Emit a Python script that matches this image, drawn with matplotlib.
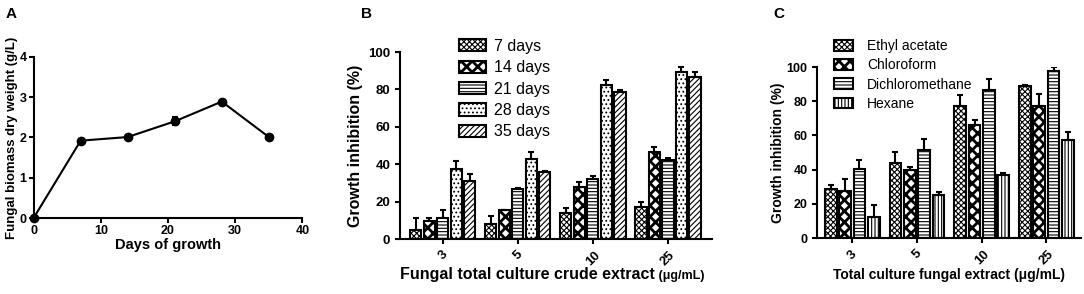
import numpy as np
import matplotlib
matplotlib.use("Agg")
import matplotlib.pyplot as plt

plt.rcParams['font.family'] = ['Liberation Sans', 'DejaVu Sans']
plt.rcParams['font.weight'] = 'bold'
plt.rcParams['axes.labelweight'] = 'bold'
plt.rcParams['axes.linewidth'] = 1.5
plt.rcParams['xtick.major.width'] = 1.5
plt.rcParams['ytick.major.width'] = 1.5
plt.rcParams['xtick.major.size'] = 3.5
plt.rcParams['ytick.major.size'] = 3.5
plt.rcParams['hatch.linewidth'] = 0.8

# Panel A: biomass over time
days = [0, 7, 14, 21, 28, 35]
biomass = [0.0, 1.92, 2.01, 2.40, 2.89, 2.01]
biomass_err = [0.0, 0.03, 0.03, 0.10, 0.03, 0.02]

# Panel B: growth inhibition by culture age
conc_labels = ["3", "5", "10", "25"]
age_labels = ["7 days", "14 days", "21 days", "28 days", "35 days"]
age_vals = [
    [4.6, 8.2, 13.9, 17.1],
    [9.4, 15.3, 27.8, 46.3],
    [11.2, 26.9, 32.0, 42.4],
    [37.4, 42.8, 82.2, 89.3],
    [31.2, 36.0, 78.6, 86.5],
]
age_errs = [
    [6.6, 4.3, 2.7, 2.5],
    [1.8, 0.4, 2.5, 2.7],
    [4.5, 0.6, 1.9, 0.9],
    [4.1, 3.5, 2.6, 2.7],
    [3.8, 0.5, 1.3, 2.6],
]
age_hatches = ["xxxxxx", "xxx", "-----", "....", "//////"]

# Panel C: growth inhibition by solvent
solvent_labels = ["Ethyl acetate", "Chloroform", "Dichloromethane", "Hexane"]
solvent_vals = [
    [28.8, 44.0, 77.0, 88.7],
    [27.3, 40.0, 66.3, 77.0],
    [40.2, 51.3, 86.4, 97.5],
    [12.3, 25.3, 37.0, 57.5],
]
solvent_errs = [
    [2.4, 6.3, 6.4, 0.6],
    [7.4, 1.5, 2.5, 7.4],
    [5.6, 6.8, 6.4, 2.5],
    [6.8, 1.6, 1.2, 4.5],
]
solvent_hatches = ["xxxxxx", "xxx", "-----", "|||||"]
# thicker hatch strokes for the checker-like pattern
hatch_widths = {"xxx": 2.0}

fig = plt.figure(figsize=(10.84, 2.94), dpi=100)


def style_axes(ax):
    for side in ("top", "right"):
        ax.spines[side].set_visible(False)
    ax.tick_params(direction="out")


def fix_hatch(patch):
    hw = hatch_widths.get(patch.get_hatch(), 0.8)
    if hasattr(patch, "set_hatch_linewidth"):
        patch.set_hatch_linewidth(hw)


def grouped_bars(ax, vals, errs, labels, hatches, pitch, width):
    n = len(vals)
    x = np.arange(len(conc_labels))
    for i in range(n):
        pos = x + (i - (n - 1) / 2) * pitch
        hw = hatch_widths.get(hatches[i], 0.8)
        with plt.rc_context({"hatch.linewidth": hw}):
            bars = ax.bar(pos, vals[i], width, color="white", edgecolor="black",
                          linewidth=1.5, hatch=hatches[i], label=labels[i], zorder=2)
        for b in bars:
            fix_hatch(b)
        ax.errorbar(pos, vals[i], yerr=[np.zeros(len(x)), errs[i]], fmt="none",
                    ecolor="black", elinewidth=1.5, capsize=2.5, capthick=1.5, zorder=3)
    ax.set_xticks(x)
    ax.set_xticklabels(conc_labels, rotation=45)


# A
axA = fig.add_axes([0.031, 0.2585, 0.248, 0.548])
axA.errorbar(days, biomass, yerr=biomass_err, color="black", lw=1.5, marker="o",
             markersize=6, capsize=2.5, elinewidth=1.5, capthick=1.5, clip_on=False, zorder=3)
axA.set_xlim(0, 40)
axA.set_ylim(0, 4)
axA.set_xticks([0, 10, 20, 30, 40])
axA.set_yticks([0, 1, 2, 3, 4])
axA.tick_params(labelsize=9, pad=1.5)
axA.set_xlabel("Days of growth", fontsize=10.5, labelpad=1)
axA.set_ylabel("Fungal biomass dry weight (g/L)", fontsize=9.5, labelpad=1)
style_axes(axA)
fig.text(0.005, 0.975, "A", fontsize=11, va="top")

# B
axB = fig.add_axes([0.369, 0.187, 0.288, 0.636])
grouped_bars(axB, age_vals, age_errs, age_labels, age_hatches, 0.18, 0.15)
axB.set_xlim(-0.57, 3.59)
axB.set_ylim(0, 100)
axB.set_yticks(range(0, 101, 20))
axB.tick_params(axis="y", labelsize=9.5)
axB.tick_params(axis="x", labelsize=9.5)
axB.set_ylabel("Growth inhibition (%)", fontsize=11.5)
axB.yaxis.set_label_coords(-0.118, 0.5)
xl_main = fig.text(0.369, 1 - 274 / 294, "Fungal total culture crude extract", fontsize=11.5,
                   ha="left", va="center")
axB.annotate(" (\u03bcg/mL)", xy=(1, 0), xycoords=xl_main, va="bottom", fontsize=9)
style_axes(axB)
with plt.rc_context({"hatch.linewidth": 2.0}):
    legB = axB.legend(loc="upper left", bbox_to_anchor=(0.416, 0.895),
                      bbox_transform=fig.transFigure, frameon=False,
                      prop={"size": 11.5, "weight": "normal"}, handlelength=1.7,
                      handleheight=0.8, labelspacing=0.4, handletextpad=0.5, borderpad=0)
for h in legB.legend_handles:
    fix_hatch(h)
fig.text(0.333, 0.975, "B", fontsize=11, va="top")

# C
axC = fig.add_axes([0.754, 0.190, 0.243, 0.582])
grouped_bars(axC, solvent_vals, solvent_errs, solvent_labels, solvent_hatches, 0.222, 0.18)
axC.set_xlim(-0.54, 3.53)
axC.set_ylim(0, 100)
axC.set_yticks(range(0, 101, 20))
axC.tick_params(axis="y", labelsize=9)
axC.tick_params(axis="x", labelsize=9.5)
axC.set_xlabel("Total culture fungal extract (\u03bcg/mL)", fontsize=10, labelpad=1)
axC.set_ylabel("Growth inhibition (%)", fontsize=10, labelpad=1)
style_axes(axC)
legC = axC.legend(loc="upper left", bbox_to_anchor=(0.763, 0.89), bbox_transform=fig.transFigure,
                  frameon=False, prop={"size": 10, "weight": "normal"}, handlelength=1.4,
                  handleheight=0.8, labelspacing=0.37, handletextpad=1.0, borderpad=0)
for h in legC.legend_handles:
    fix_hatch(h)
fig.text(0.713, 0.975, "C", fontsize=11, va="top")

fig.savefig("out.png", dpi=100)
